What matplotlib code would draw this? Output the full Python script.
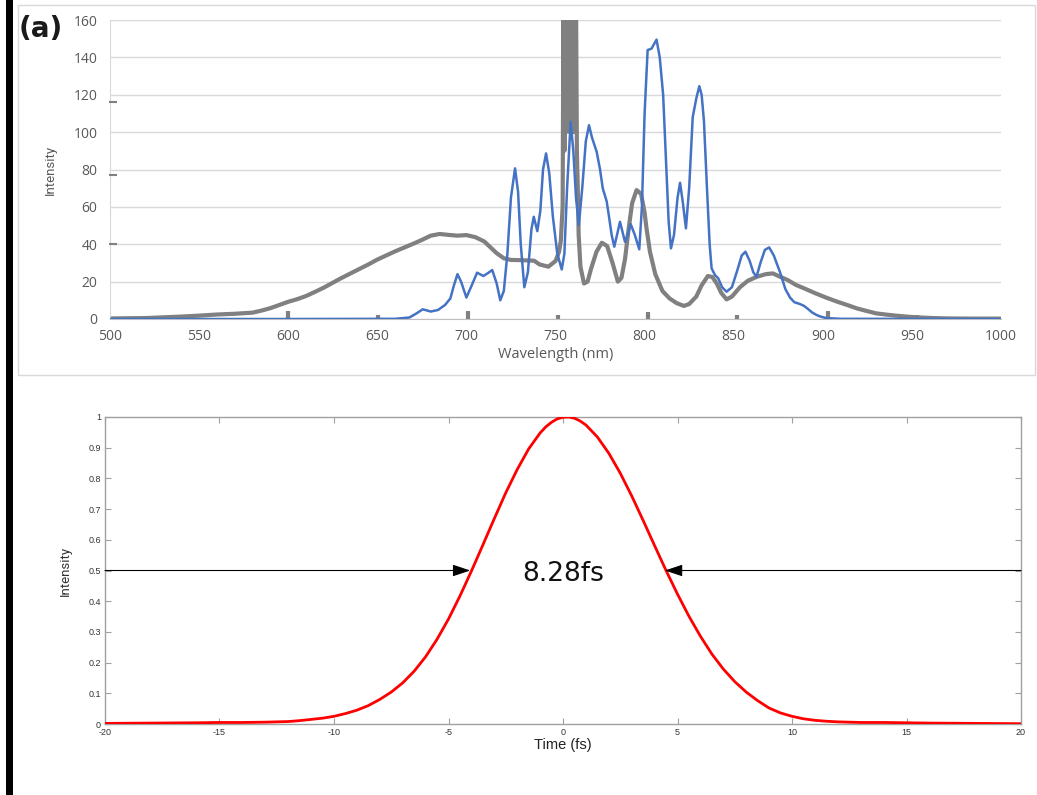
import matplotlib
matplotlib.use("Agg")
import matplotlib.pyplot as plt
from matplotlib.patches import Rectangle

plt.rcParams['axes.unicode_minus'] = False

# ---------------- data: panel (a) spectra ----------------
gray_wl = [500, 510, 520, 530, 540, 550, 560, 570, 580, 585, 590, 595, 600, 605, 610, 615,
           620, 625, 630, 635, 640, 645, 650, 655, 660, 665, 670, 675, 680, 685, 690, 695,
           700, 705, 710, 713, 717, 721, 725, 730, 735, 738, 741, 746, 750, 752, 753, 754,
           754.5, 755, 755.5, 756, 756.5, 757, 757.5, 758, 758.5, 759, 759.5, 760, 760.5,
           761, 761.5, 762, 762.5, 763, 764, 766, 768, 770, 773, 776, 779,
           782, 785, 787, 789, 791, 793, 795.5, 798, 800, 801, 803, 806, 810, 814, 818, 822,
           825, 829, 832, 835.5, 838, 840.5, 843, 846, 849, 853.5, 858, 863, 868, 872, 876,
           880, 885, 890, 896, 902, 908, 914, 919, 925, 930, 936, 941, 948, 955, 962, 970,
           985, 1000]
gray_int = [0.3, 0.4, 0.5, 0.9, 1.3, 1.8, 2.4, 2.8, 3.4, 4.5, 5.8, 7.5, 9.2, 10.6, 12.3, 14.5,
            16.8, 19.4, 22.0, 24.4, 26.8, 29.2, 31.8, 34.0, 36.2, 38.2, 40.2, 42.3, 44.6, 45.5, 45.0, 44.6,
            44.9, 43.8, 41.5, 38.8, 35.2, 32.5, 31.6, 31.5, 31.3, 31.2, 29.2, 28.0, 31.0, 36.0, 42, 60,
            175, 90, 175, 100, 175, 110, 175, 100, 175, 110, 175, 100, 175,
            110, 175, 90, 70, 45, 28, 19, 20, 27, 36, 40.8, 39,
            30, 20, 22, 32, 48, 62, 69, 67, 57, 49, 36, 24, 15, 11, 8.5, 7,
            8, 12, 18, 23, 22.5, 19, 14, 10.5, 12, 17, 20.5, 22.6, 24, 24.4, 22.6,
            21, 18.2, 16.2, 13.7, 11.4, 9.3, 7.4, 5.7, 4.2, 3.0, 2.3, 1.8, 1.2, 0.8, 0.5, 0.3,
            0.2, 0.2]

blue_wl = [500, 600, 660, 668, 672, 675.5, 680, 684, 688, 691, 693, 695, 697, 700, 703, 706,
           709.5, 712, 714.5, 717, 719, 721, 723, 725, 727.3, 729, 730.5, 732.5, 734.5, 736.5,
           737.8, 739.8, 741.5, 743, 744.7, 746.5, 748.5, 751, 753.5, 755, 756.5, 758.5, 760,
           761.5, 763.1, 765, 767, 768.8, 770.5, 773.1, 775, 776.5, 778.7, 780, 781.5, 783,
           785, 786.2, 787.5, 789, 790.5, 792.2, 794.5, 797, 798.5, 800, 801.7, 803.9, 806.7,
           808.5, 810.4, 812, 813.5, 814.8, 816.5, 818.5, 819.9, 821.5, 823.2, 825, 827, 829,
           830.7, 832, 833.3, 835, 836.5, 837.6, 839.5, 841.3, 843.5, 846, 849, 852, 854.5,
           856.6, 859, 861, 862.8, 865, 867.5, 869.9, 872.5, 876, 879, 881.6, 884, 887.2,
           889.5, 891.9, 894, 896.6, 899, 902, 910, 1000]
blue_int = [0.0, 0.0, 0.1, 0.8, 3.0, 5.2, 4.0, 4.8, 7.5, 11, 18, 24, 20, 11.5, 18, 24.8,
            23, 24.5, 26.2, 19, 10, 15, 35, 65, 80.6, 68, 40, 17, 25, 48,
            54.7, 47, 58, 80, 88.6, 78, 55, 35, 26.5, 35, 70, 105.5, 90,
            65, 50.3, 70, 95, 103.7, 97, 89.5, 80, 70, 63, 55, 45, 38.7,
            47, 52, 47, 41.3, 45, 50.8, 45, 37.3, 60, 110, 143.9, 144.7, 149.5,
            140, 120, 85, 52, 37.8, 45, 65, 72.9, 62, 48.5, 70, 108, 118,
            124.6, 120, 106, 70, 40, 27.1, 23.5, 21.8, 17, 14.6, 17, 26, 34,
            36, 31, 25, 22.6, 30, 37, 38.3, 34, 25, 16, 11.5, 9, 8,
            7, 5.2, 3.5, 2.1, 1.2, 0.5, 0.1, 0.0]

# small stray marks of the grey trace
spike_wl = [600, 650.5, 701, 751.5, 802, 852, 903, 953]
spike_h = [4.5, 2.0, 4.5, 2.0, 4.0, 2.0, 4.5, 2.0]
stray_y = [116, 77, 40]

wl_ticks = list(range(500, 1001, 50))
int_ticks = list(range(0, 161, 20))

# ---------------- data: lower panel pulse ----------------
time_fs = [-20, -18, -16, -15, -14, -13, -12, -11.5, -11, -10.5, -10, -9.5, -9, -8.5, -8,
           -7.5, -7, -6.5, -6, -5.5, -5, -4.5, -4, -3.5, -3, -2.5, -2, -1.5, -1, -0.75, -0.5,
           -0.25, 0, 0.25, 0.5, 0.75, 1, 1.5, 2, 2.5, 3, 3.5, 4, 4.5, 5, 5.5, 6, 6.5, 7, 7.5,
           8, 8.5, 9, 9.5, 10, 10.5, 11, 11.5, 12, 13, 14, 15, 16, 18, 20]
pulse = [0.002, 0.003, 0.004, 0.005, 0.005, 0.006, 0.008, 0.011, 0.015, 0.019, 0.025, 0.034,
         0.045, 0.060, 0.080, 0.104, 0.134, 0.172, 0.219, 0.276, 0.342, 0.417, 0.498, 0.583,
         0.669, 0.753, 0.829, 0.896, 0.948, 0.968, 0.983, 0.994, 0.999, 1.000, 0.996, 0.987,
         0.974, 0.935, 0.882, 0.817, 0.743, 0.663, 0.581, 0.500, 0.423, 0.351, 0.286, 0.228,
         0.179, 0.138, 0.104, 0.076, 0.052, 0.036, 0.025, 0.017, 0.012, 0.009, 0.007, 0.005,
         0.005, 0.004, 0.003, 0.002, 0.001]
t_ticks = list(range(-20, 21, 5))
p_ticks = [round(0.1 * i, 1) for i in range(11)]
p_labels = ['0'] + [f'{v:g}' for v in p_ticks[1:-1]] + ['1']
fwhm_left, fwhm_right, half = -4.05, 4.45, 0.5
fwhm_text = '8.28fs'

# ---------------- figure ----------------
W, H = 1037, 795
fig = plt.figure(figsize=(W / 100, H / 100), dpi=100)
fig.patch.set_facecolor('white')

narrow = ['Liberation Sans Narrow', 'DejaVu Sans Condensed', 'Roboto', 'DejaVu Sans']

# left black bar and frame of upper chart
fig.patches.append(Rectangle((6 / W, 0), 7 / W, 1, transform=fig.transFigure,
                             facecolor='black', edgecolor='none', zorder=0))
fig.patches.append(Rectangle((18 / W, 1 - 375 / H), (1035 - 18) / W, (375 - 5) / H,
                             transform=fig.transFigure, fill=False,
                             edgecolor='#D9D9D9', lw=1, zorder=0))

# ---- upper panel ----
ax1 = fig.add_axes([110 / W, 1 - 319 / H, (1001 - 110) / W, (319 - 20) / H])
ax1.plot(gray_wl, gray_int, color='#808080', lw=3.0, solid_joinstyle='round', zorder=2)
ax1.vlines(spike_wl, 0, spike_h, color='#808080', lw=3.0, zorder=2)
ax1.plot([501.8] * len(stray_y), stray_y, ls='none', marker='_', ms=6, mew=1.5,
         color='#808080', clip_on=False, zorder=3)
ax1.plot(blue_wl, blue_int, color='#4472C4', lw=1.8, zorder=3)
ax1.set_xlim(500, 1000)
ax1.set_ylim(0, 160)
ax1.set_xticks(wl_ticks)
ax1.set_yticks(int_ticks)
ax1.grid(axis='y', color='#D9D9D9', lw=1)
ax1.set_axisbelow(True)
ax1.tick_params(length=0, labelcolor='#595959', labelsize=10)
ax1.tick_params(axis='y', pad=9)
ax1.tick_params(axis='x', pad=7)
for lab in ax1.get_xticklabels() + ax1.get_yticklabels():
    lab.set_family(['Open Sans', 'DejaVu Sans'])
for s in ['top', 'right']:
    ax1.spines[s].set_visible(False)
ax1.spines['left'].set_color('#D9D9D9')
ax1.spines['bottom'].set_color('#BFBFBF')
ax1.set_ylabel('Intensity', fontsize=9.5, color='#595959', family=narrow)
ax1.yaxis.set_label_coords(-0.06, 0.5)
ax1.set_xlabel('Wavelength (nm)', fontsize=10.5, color='#595959',
               family=['Open Sans', 'DejaVu Sans'])
ax1.xaxis.set_label_coords(0.5, -0.092)

fig.text(19 / W, 1 - 29 / H, '(a)', fontsize=20, fontweight='semibold',
         ha='left', va='center', color='#1a1a1a')

# ---- lower panel ----
ax2 = fig.add_axes([105 / W, 1 - 724 / H, (1021 - 105) / W, (724 - 417) / H])
ax2.plot(time_fs, pulse, color='#FF0000', lw=2.0, zorder=3)
ax2.set_xlim(-20, 20)
ax2.set_ylim(0, 1)
ax2.set_xticks(t_ticks)
ax2.set_yticks(p_ticks)
ax2.set_yticklabels(p_labels)
for s in ax2.spines.values():
    s.set_color('#A0A0A0')
    s.set_linewidth(1)
ax2.tick_params(direction='in', length=4, width=0.8, color='#A0A0A0',
                labelsize=6.5, labelcolor='#333333', top=True, right=True, pad=3)
for lab in ax2.get_xticklabels() + ax2.get_yticklabels():
    lab.set_family(['Liberation Sans', 'DejaVu Sans'])
ax2.set_ylabel('Intensity', fontsize=9.5, color='#333333', family=narrow)
ax2.yaxis.set_label_coords(-0.036, 0.5)
ax2.set_xlabel('Time (fs)', fontsize=10.5, color='#222222',
               family=['Liberation Sans', 'DejaVu Sans'])
ax2.xaxis.set_label_coords(0.5, -0.045)

arrow = dict(arrowstyle='-|>,head_length=0.9,head_width=0.3', color='black',
             lw=0.8, shrinkA=0, shrinkB=0, mutation_scale=12)
ax2.annotate('', xy=(fwhm_left, half), xytext=(-20, half), arrowprops=arrow, zorder=4)
ax2.annotate('', xy=(fwhm_right, half), xytext=(20, half), arrowprops=arrow, zorder=4)
ax2.text(0, half - 0.01, fwhm_text, ha='center', va='center', fontsize=19, color='#111111')

fig.savefig('out.png', dpi=100, facecolor='white')
